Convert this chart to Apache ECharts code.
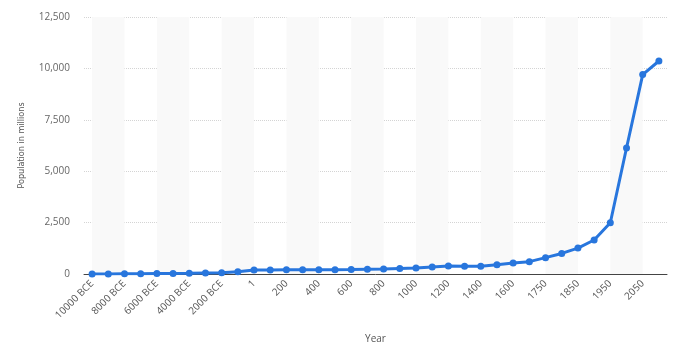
<!DOCTYPE html>
<html>
<head>
<meta charset="utf-8">
<script src="https://cdn.jsdelivr.net/npm/echarts@6/dist/echarts.min.js"></script>
<style>
  html, body { margin: 0; padding: 0; background: #fff; }
  #chart { width: 677px; height: 346px; }
</style>
</head>
<body>
<div id="chart"></div>
<script>
// World population by year, in millions
const years = [
  '10000 BCE', '9000 BCE', '8000 BCE', '7000 BCE', '6000 BCE', '5000 BCE',
  '4000 BCE', '3000 BCE', '2000 BCE', '1000 BCE', '1', '100', '200', '300',
  '400', '500', '600', '700', '800', '900', '1000', '1100', '1200', '1300',
  '1400', '1500', '1600', '1700', '1750', '1800', '1850', '1900', '1950',
  '2000', '2050', '2100'
];
const population = [
  4, 5, 8, 12, 20, 25,
  34, 50, 65, 115, 195, 195, 202, 205,
  209, 210, 213, 226, 240, 269, 295, 345, 390, 380,
  375, 455, 540, 600, 795, 1000, 1260, 1654, 2490,
  6130, 9700, 10360
];
const yTicks = [0, 2500, 5000, 7500, 10000, 12500];

// alternating light bands spanning every other pair of labelled years
const bands = [];
for (let i = 0; i + 2 < years.length; i += 4) {
  bands.push([{ xAxis: years[i] }, { xAxis: years[i + 2] }]);
}

const chart = echarts.init(document.getElementById('chart'));
chart.setOption({
  animation: false,
  grid: { left: 84, right: 10, top: 17, bottom: 72, outerBoundsMode: 'none', containLabel: false },
  xAxis: {
    type: 'category',
    data: years,
    boundaryGap: true,
    name: 'Year',
    nameLocation: 'middle',
    nameGap: 60,
    nameTextStyle: { color: '#555', fontSize: 10, fontFamily: 'Open Sans' },
    axisLine: { lineStyle: { color: '#444', width: 1 } },
    axisTick: { show: false },
    axisLabel: {
      interval: 1,
      rotate: 45,
      margin: 8,
      color: '#555',
      fontSize: 10,
      fontFamily: 'Open Sans'
    },
    splitLine: { show: false }
  },
  yAxis: {
    type: 'value',
    min: yTicks[0],
    max: yTicks[yTicks.length - 1],
    interval: yTicks[1] - yTicks[0],
    name: 'Population in millions',
    nameLocation: 'middle',
    nameGap: 58,
    nameTextStyle: { color: '#555', fontSize: 9, fontFamily: 'DejaVu Sans Condensed' },
    axisLine: { show: false },
    axisTick: { show: false },
    axisLabel: {
      margin: 14,
      color: '#666',
      fontSize: 10,
      fontFamily: 'Open Sans',
      formatter: v => v.toLocaleString('en-US')
    },
    splitLine: { lineStyle: { color: '#d4d4d4', type: [1, 1], width: 1 } }
  },
  series: [
    {
      // background bands, kept beneath the grid lines
      type: 'line',
      z: -1,
      data: population,
      symbol: 'none',
      silent: true,
      lineStyle: { opacity: 0 },
      markArea: {
        silent: true,
        itemStyle: { color: '#f9f9f9' },
        data: bands
      }
    },
    {
      type: 'line',
      data: population,
      symbol: 'circle',
      symbolSize: 7,
      lineStyle: { color: '#2876dd', width: 3 },
      itemStyle: { color: '#2876dd' },
      z: 3
    }
  ]
});
</script>
</body>
</html>
